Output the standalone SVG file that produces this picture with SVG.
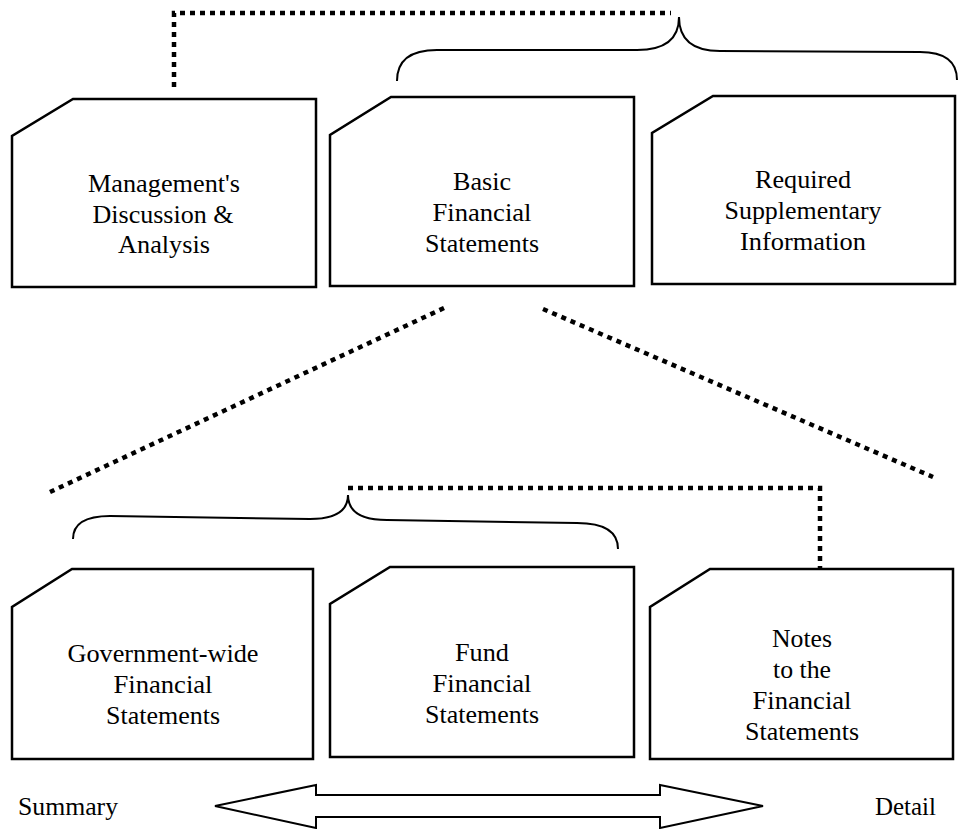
<svg xmlns="http://www.w3.org/2000/svg" width="960" height="829" viewBox="0 0 960 829">
<style>
.box{fill:#fff;stroke:#000;stroke-width:2.5;stroke-linejoin:miter}
text{font-family:"Liberation Serif","Times New Roman","DejaVu Serif","Noto Serif",serif;font-size:26px;fill:#000}
.t{text-anchor:middle}
.dot{fill:none;stroke:#000;stroke-width:4.5;stroke-dasharray:5 5}
.brace{fill:none;stroke:#000;stroke-width:2}
.arrow{fill:#fff;stroke:#000;stroke-width:2}
</style>
<rect width="960" height="829" fill="#fff"/>
<g id="connectors">
<path class="dot" d="M174,87 L174,13 L671,13"/>
<path class="brace" d="M397,81 Q397,50 437,50 L637,50 Q679,50 679,17 Q679,51 720,51 L920,52 Q957,52 957,80"/>
<path class="dot" d="M444,308 L50,492"/>
<path class="dot" d="M543,309 L933,477"/>
<path class="dot" d="M348,488 L820,488 L820,568"/>
<path class="brace" d="M73,539 Q73,516 110,516 L310,519 Q348,519 348,495 Q348,520 387,520 L577,523 Q618,523 618,549"/>
</g>
<g id="node-mda">
<path class="box" d="M73,99 L316,99 L316,287 L12,287 L12,136 Z"/>
<text class="t" x="164" y="192" textLength="152" lengthAdjust="spacingAndGlyphs">Management's</text>
<text class="t" x="163" y="223" textLength="141" lengthAdjust="spacingAndGlyphs">Discussion &amp;</text>
<text class="t" x="164" y="253" textLength="92" lengthAdjust="spacingAndGlyphs">Analysis</text>
</g>
<g id="node-basic">
<path class="box" d="M391,97 L634,97 L634,286 L330,286 L330,135 Z"/>
<text class="t" x="482" y="190" textLength="58" lengthAdjust="spacingAndGlyphs">Basic</text>
<text class="t" x="482" y="221" textLength="99" lengthAdjust="spacingAndGlyphs">Financial</text>
<text class="t" x="482" y="252" textLength="114" lengthAdjust="spacingAndGlyphs">Statements</text>
</g>
<g id="node-rsi">
<path class="box" d="M713,96 L955,96 L955,284 L652,284 L652,133 Z"/>
<text class="t" x="803" y="188" textLength="96" lengthAdjust="spacingAndGlyphs">Required</text>
<text class="t" x="803" y="219" textLength="157" lengthAdjust="spacingAndGlyphs">Supplementary</text>
<text class="t" x="803" y="250" textLength="126" lengthAdjust="spacingAndGlyphs">Information</text>
</g>
<g id="node-govwide">
<path class="box" d="M72,569 L313,569 L313,759 L12,759 L12,607 Z"/>
<text class="t" x="163" y="662" textLength="191" lengthAdjust="spacingAndGlyphs">Government-wide</text>
<text class="t" x="163" y="693" textLength="99" lengthAdjust="spacingAndGlyphs">Financial</text>
<text class="t" x="163" y="724" textLength="114" lengthAdjust="spacingAndGlyphs">Statements</text>
</g>
<g id="node-fund">
<path class="box" d="M390,567 L634,567 L634,757 L330,757 L330,604 Z"/>
<text class="t" x="482" y="661" textLength="54" lengthAdjust="spacingAndGlyphs">Fund</text>
<text class="t" x="482" y="692" textLength="99" lengthAdjust="spacingAndGlyphs">Financial</text>
<text class="t" x="482" y="723" textLength="114" lengthAdjust="spacingAndGlyphs">Statements</text>
</g>
<g id="node-notes">
<path class="box" d="M710,569 L953,569 L953,759 L650,759 L650,607 Z"/>
<text class="t" x="802" y="647" textLength="60" lengthAdjust="spacingAndGlyphs">Notes</text>
<text class="t" x="802" y="678" textLength="58" lengthAdjust="spacingAndGlyphs">to the</text>
<text class="t" x="802" y="709" textLength="99" lengthAdjust="spacingAndGlyphs">Financial</text>
<text class="t" x="802" y="740" textLength="114" lengthAdjust="spacingAndGlyphs">Statements</text>
</g>
<g id="scale">
<path class="arrow" d="M215,806 L316,785 L316,795 L660,795 L660,785 L763,806 L660,828 L660,817 L316,817 L316,828 Z"/>
<text x="18" y="815" textLength="100" lengthAdjust="spacingAndGlyphs">Summary</text>
<text x="875" y="815" textLength="61" lengthAdjust="spacingAndGlyphs">Detail</text>
</g>
</svg>
